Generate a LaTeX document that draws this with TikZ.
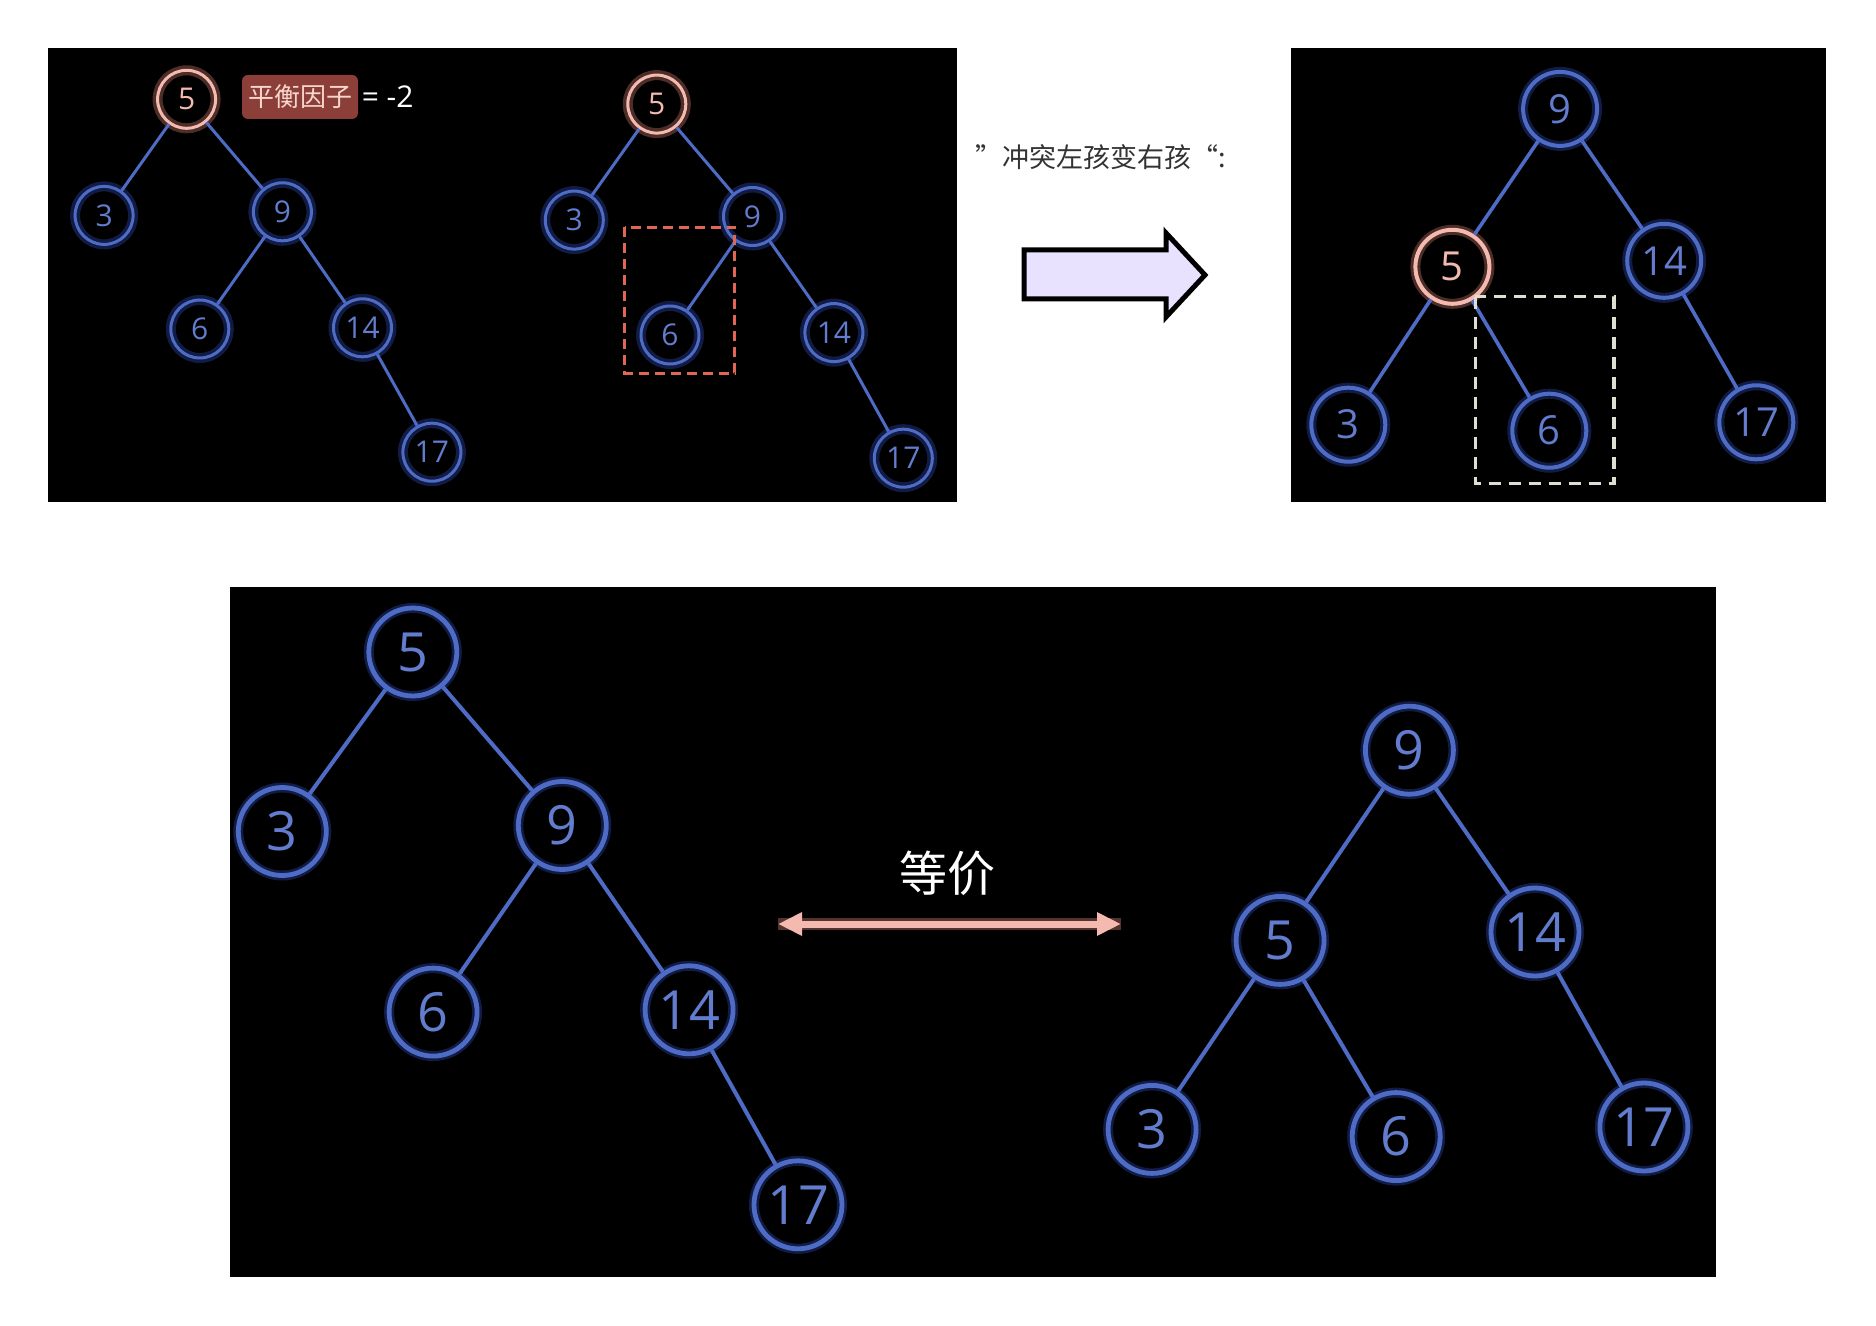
\documentclass[tikz,border=0pt]{standalone}
\usepackage{fontspec}
\setmainfont{Open Sans}
\newfontfamily\cjk{Noto Sans CJK SC}
\usetikzlibrary{arrows.meta,positioning}
\definecolor{ringblue}{RGB}{78,108,198}
\definecolor{numblue}{RGB}{98,124,206}
\definecolor{glowblue}{RGB}{38,62,150}
\definecolor{ringpink}{RGB}{244,186,176}
\definecolor{glowpink}{RGB}{170,100,90}
\definecolor{tagred}{RGB}{140,62,56}
\definecolor{tagtext}{RGB}{246,214,206}
\definecolor{boxred}{RGB}{222,104,84}
\definecolor{boxgray}{RGB}{222,222,210}
\definecolor{lavender}{RGB}{232,226,255}
\tikzset{
  ring/.style={circle,inner sep=0pt},
  bn/.style={ring,draw=ringblue,text=numblue,
    preaction={draw=glowblue,line width=5pt,opacity=0.45}},
  pn/.style={ring,draw=ringpink,text=ringpink,
    preaction={draw=glowpink,line width=5pt,opacity=0.45}},
  sz1/.style={minimum size=29pt,line width=1.5pt,font=\fontsize{15}{15}\selectfont},
  sz2/.style={minimum size=37pt,line width=2pt,font=\fontsize{20}{20}\selectfont},
  sz3/.style={minimum size=44pt,line width=2.4pt,font=\fontsize{27}{27}\selectfont},
  edge/.style={draw=ringblue,line width=1.5pt},
  panel/.style={fill=black},
}
\begin{document}
\begin{tikzpicture}[x=0.5pt,y=-0.5pt]
  \useasboundingbox[fill=white] (0,0) rectangle (1876,1326);
  % the three black panels
  \fill[panel] (48,48) rectangle (957,502);
  \fill[panel] (1291,48) rectangle (1826,502);
  \fill[panel] (230,587) rectangle (1716,1277);

  % panel 1, left tree
  \node[pn,sz1] (a5) at (186.6,99.3) {5};
  \node[bn,sz1] (a3) at (104.1,215.4) {3};
  \node[bn,sz1] (a9) at (282.4,211.8) {9};
  \node[bn,sz1] (a6) at (199.8,329.0) {6};
  \node[bn,sz1] (a14) at (362.5,327.8) {14};
  \node[bn,sz1] (a17) at (431.9,452.2) {17};
  \foreach \p/\c in {a5/a3,a5/a9,a9/a6,a9/a14,a14/a17}
    \draw[edge] (\p) -- (\c);
  \node[fill=tagred,rounded corners=3pt,text=tagtext,minimum width=58pt,minimum height=22pt,
    inner sep=1pt,font=\cjk\fontsize{13}{13}\selectfont] (tag) at (300,97) {平衡因子};
  \node[right=1.5pt of tag,text=white,inner sep=0pt,font=\fontsize{15}{15}\selectfont] (bf) {= -2};

  % panel 1, right tree
  \node[pn,sz1] (b5) at (656.8,104.1) {5};
  \node[bn,sz1] (b3) at (574.3,220.1) {3};
  \node[bn,sz1] (b9) at (752.5,216.5) {9};
  \node[bn,sz1] (b6) at (670.0,335.0) {6};
  \node[bn,sz1] (b14) at (833.9,332.6) {14};
  \node[bn,sz1] (b17) at (903.3,458.2) {17};
  \foreach \p/\c in {b5/b3,b5/b9,b9/b6,b9/b14,b14/b17}
    \draw[edge] (\p) -- (\c);
  \draw[boxred,line width=1.3pt,dash pattern=on 5pt off 3pt] (624.5,227.3) rectangle (734.6,373.3);

  % caption and big arrow
  \node[anchor=west,inner sep=0pt,text=black!80,font=\cjk\fontsize{13.5}{13.5}\selectfont]
    (rule) at (975,157) {”冲突左孩变右孩“:};
  \draw[fill=lavender,line width=2.5pt,line join=miter]
    (1024,250) -- (1166,250) -- (1166,233) -- (1205,275) -- (1166,317)
    -- (1166,299) -- (1024,299) -- cycle;

  % panel 2
  \node[bn,sz2] (c9) at (1560.1,108.9) {9};
  \node[pn,sz2] (c5) at (1452.4,266.8) {5};
  \node[bn,sz2] (c14) at (1664.2,260.8) {14};
  \node[bn,sz2] (c3) at (1348.3,424.7) {3};
  \node[bn,sz2] (c6) at (1549.3,430.7) {6};
  \node[bn,sz2] (c17) at (1756.3,422.3) {17};
  \foreach \p/\c in {c9/c5,c9/c14,c5/c3,c5/c6,c14/c17}
    \draw[edge,line width=1.8pt] (\p) -- (\c);
  \draw[boxgray,line width=1.6pt,dash pattern=on 6pt off 4pt] (1475.2,296.7) rectangle (1613.9,483.3);

  % panel 3, left tree
  \node[bn,sz3] (d5) at (412.8,652.0) {5};
  \node[bn,sz3] (d3) at (282.3,831.5) {3};
  \node[bn,sz3] (d9) at (562.3,825.5) {9};
  \node[bn,sz3] (d6) at (433.1,1012.1) {6};
  \node[bn,sz3] (d14) at (689.1,1009.8) {14};
  \node[bn,sz3] (d17) at (798.0,1204.8) {17};
  \foreach \p/\c in {d5/d3,d5/d9,d9/d6,d9/d14,d14/d17}
    \draw[edge,line width=2pt] (\p) -- (\c);

  % panel 3, right tree
  \node[bn,sz3] (e9) at (1409.4,750.2) {9};
  \node[bn,sz3] (e5) at (1280.1,940.4) {5};
  \node[bn,sz3] (e14) at (1535.0,932.0) {14};
  \node[bn,sz3] (e3) at (1152.1,1129.4) {3};
  \node[bn,sz3] (e6) at (1396.2,1136.6) {6};
  \node[bn,sz3] (e17) at (1643.9,1127.0) {17};
  \foreach \p/\c in {e9/e5,e9/e14,e5/e3,e5/e6,e14/e17}
    \draw[edge,line width=2pt] (\p) -- (\c);

  % equivalence arrow
  \node[text=white,font=\cjk\fontsize{24}{24}\selectfont] (eq) at (947.6,873.4) {等价};
  \coordinate (eqL) at (778,924);
  \coordinate (eqR) at (1121,924);
  \draw[ringpink,line width=3.5pt,{Triangle[length=12pt,width=11pt]}-{Triangle[length=12pt,width=11pt]},
    preaction={draw=glowpink,line width=6pt,opacity=0.5,-}] (eqL) -- (eqR);
\end{tikzpicture}
\end{document}
